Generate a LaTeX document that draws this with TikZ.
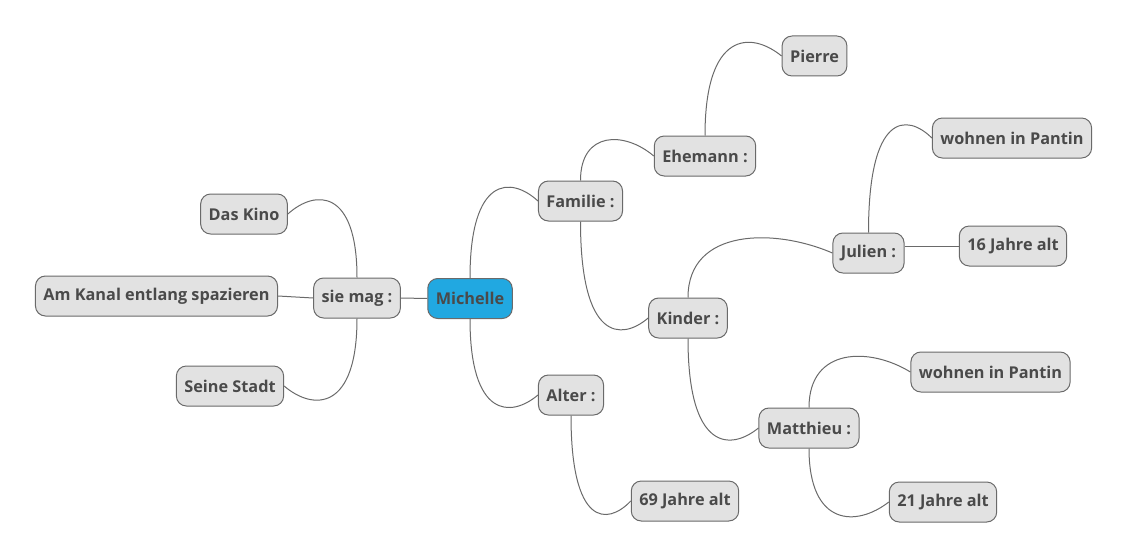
\documentclass[tikz,border=0pt]{standalone}
\usepackage{fontspec}
\setmainfont{Open Sans}
\usetikzlibrary{calc}

\definecolor{topicfill}{HTML}{E2E2E2}
\definecolor{topicline}{HTML}{6A6A6A}
\definecolor{topictext}{HTML}{4A4A4A}
\definecolor{rootfill}{HTML}{21A8E1}

\begin{document}
\begin{tikzpicture}[
    x=0.75pt,
    y=-0.75pt,
    font=\fontsize{12.2}{14}\selectfont\bfseries,
    topic/.style={
        draw=topicline,
        line width=0.75pt,
        fill=topicfill,
        text=topictext,
        rounded corners=7.5pt,
        minimum height=30pt,
        inner xsep=6pt,
        inner ysep=0pt
    },
    root/.style={topic, fill=rootfill},
    link/.style={draw=topicline, line width=0.75pt},
    twig/.style={to path={
        .. controls ($(\tikztostart|-\tikztotarget)+(0,#1)$)
        and ($(\tikztostart|-\tikztotarget)!0.6!(\tikztotarget)+(0,#1)$)
        .. (\tikztotarget)}}
]
\useasboundingbox (0,0) rectangle (1128,560);

% ============================================================
% WURZEL
% ============================================================
\node[root] (mich) at (470,298.5) {Michelle};

% ============================================================
% LINKS: SIE MAG
% ============================================================
\node[topic] (mag) at (357,298) {sie mag :};
\node[topic] (kino) at (244,214) {Das Kino};
\node[topic] (kanal) at (156.5,296) {Am Kanal entlang spazieren};
\node[topic] (stadt) at (230,386) {Seine Stadt};

\draw[link] (mich.west) -- (mag.east);
\draw[link] (mag.north) to[twig=-25] (kino.east);
\draw[link] (mag.west) -- (kanal.east);
\draw[link] (mag.south) to[twig=25] (stadt.east);

% ============================================================
% RECHTS: FAMILIE
% ============================================================
\node[topic] (fam) at (580.5,201) {Familie :};
\node[topic] (mann) at (705,156) {Ehemann :};
\node[topic] (pierre) at (814.5,56) {Pierre};
\node[topic] (kind) at (688,318) {Kinder :};

\draw[link] (mich.north) to[twig=-25] (fam.west);
\draw[link] (fam.north) to[twig=-25] (mann.west);
\draw[link] (mann.north) to[twig=-25] (pierre.west);
\draw[link] (fam.south) to[twig=23] (kind.west);

% ============================================================
% KINDER
% ============================================================
\node[topic] (jul) at (868.5,253) {Julien :};
\node[topic] (julwohn) at (1012,138) {wohnen in Pantin};
\node[topic] (julalt) at (1013,246) {16 Jahre alt};
\node[topic] (mat) at (809,428) {Matthieu :};
\node[topic] (matwohn) at (990.5,372) {wohnen in Pantin};
\node[topic] (matalt) at (943,502) {21 Jahre alt};

\draw[link] (kind.north) to[twig=-25] (jul.west);
\draw[link] (jul.north) to[twig=-25] (julwohn.west);
\draw[link] (jul.east |- julalt.west) -- (julalt.west);
\draw[link] (kind.south) to[twig=23] (mat.west);
\draw[link] (mat.north) to[twig=-25] (matwohn.west);
\draw[link] (mat.south) to[twig=25] (matalt.west);

% ============================================================
% RECHTS: ALTER
% ============================================================
\node[topic] (alter) at (571,395) {Alter :};
\node[topic] (altalt) at (685,501) {69 Jahre alt};

\draw[link] (mich.south) to[twig=23] (alter.west);
\draw[link] (alter.south) to[twig=25] (altalt.west);

\end{tikzpicture}
\end{document}
